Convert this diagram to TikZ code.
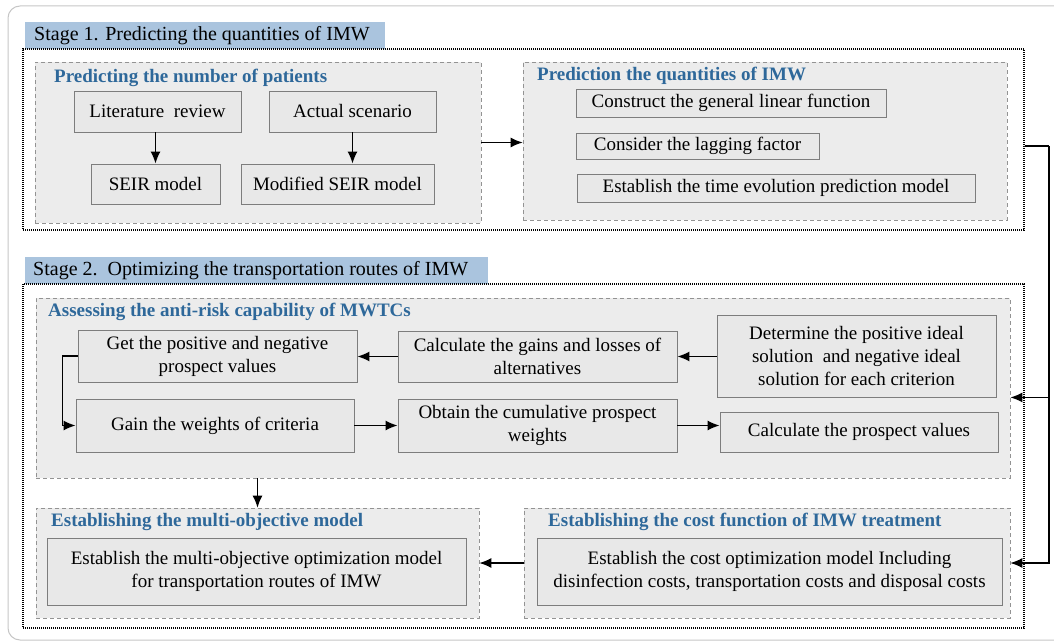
\documentclass[tikz,border=0pt]{standalone}
\usepackage{fontspec}
\setmainfont{Liberation Serif}
\usetikzlibrary{arrows.meta,calc}
\definecolor{hblue}{RGB}{46,104,154}
\definecolor{lblbg}{RGB}{170,196,222}
\definecolor{subfill}{RGB}{236,236,236}
\definecolor{nodefill}{RGB}{232,232,232}
\definecolor{nodeline}{RGB}{125,125,125}
\begin{document}
\begin{tikzpicture}[x=1pt,y=-1pt,
  box/.style={draw=nodeline, fill=nodefill, line width=0.9pt, inner sep=0pt, align=center, font=\fontsize{19}{23}\selectfont},
  subbox/.style={draw=gray!85, fill=subfill, dash pattern=on 4pt off 3pt, line width=0.7pt, inner sep=0pt},
  stagebox/.style={draw=black, dash pattern=on 1pt off 1pt, line width=1.3pt, inner sep=0pt},
  head/.style={anchor=west, text=hblue, font=\fontsize{19}{23}\selectfont\bfseries, inner sep=0pt},
  lbl/.style={fill=lblbg, anchor=north west, inner sep=0pt, minimum height=27pt},
  lbltext/.style={anchor=west, inner sep=0pt, font=\fontsize{20}{24}\selectfont},
  arr/.style={draw=black, line width=1.3pt, -{Latex[length=12pt,width=10pt]}},
  conn/.style={draw=black, line width=1.3pt}]
\useasboundingbox (0,0) rectangle (1054,644);
\clip (0,0) rectangle (1054,644);
% outer frame
\draw[gray!45, line width=1pt, rounded corners=12pt] (8,6) rectangle (1080,640);

% ---------------- Stage 1 ----------------
\node[lbl, minimum width=360pt] (lab1) at (25,22) {};
\node[lbltext] (lab1t) at ([xshift=9pt]lab1.west) {Stage 1. Predicting the quantities of IMW};
\node[stagebox, minimum width=1001pt, minimum height=181pt] (stage1) at (523.5,139.5) {};
\node[subbox, minimum width=446pt, minimum height=161pt] (sub1) at (258,142.5) {};
\node[subbox, minimum width=484pt, minimum height=158pt] (sub2) at (765,141) {};
\node[head] (h1) at (54,78) {Predicting the number of patients};
\node[head] (h2) at (537,76) {Prediction the quantities of IMW};

\node[box, minimum width=167pt, minimum height=41pt] (lit) at (157.5,111.5) {Literature\ \ review};
\node[box, minimum width=167pt, minimum height=41pt] (act) at (352.5,111.5) {Actual scenario};
\node[box, minimum width=129pt, minimum height=40pt] (seir) at (155.5,184) {SEIR model};
\node[box, minimum width=193pt, minimum height=40pt] (mod) at (337.5,184) {Modified SEIR model};

\node[box, minimum width=310pt, minimum height=28pt] (cons) at (731,103) {Construct the general linear function};
\node[box, minimum width=243pt, minimum height=26pt] (lag) at (697.5,146) {Consider the lagging factor};
\node[box, minimum width=398pt, minimum height=28pt] (tim) at (776,188) {Establish the time evolution prediction model};

\draw[arr] (lit.south -| seir.north) -- (seir.north);
\draw[arr] (act.south) -- (act.south |- mod.north);
\draw[arr] (sub1.east) -- (sub2.west |- sub1.east);

% ---------------- Stage 2 ----------------
\node[lbl, minimum width=463pt] (lab2) at (25,257) {};
\node[lbltext] (lab2t) at ([xshift=8pt]lab2.west) {Stage 2.\ \ Optimizing the transportation routes of IMW};
\node[stagebox, minimum width=1001pt, minimum height=344pt] (stage2) at (523.5,456) {};
\node[subbox, minimum width=974pt, minimum height=180pt] (assess) at (523,388) {};
\node[head] (h3) at (48,312) {Assessing the anti-risk capability of MWTCs};

\node[box, minimum width=279pt, minimum height=52pt] (get) at (217.5,356) {Get the positive and negative\\prospect values};
\node[box, minimum width=278pt, minimum height=53pt] (gain) at (215,425.5) {Gain the weights of criteria};
\node[box, minimum width=279pt, minimum height=51pt] (calc) at (537.5,356.5) {Calculate the gains and losses of\\alternatives};
\node[box, minimum width=279pt, minimum height=53pt] (obt) at (537.5,425.5) {Obtain the cumulative prospect\\weights};
\node[box, minimum width=279pt, minimum height=82pt] (det) at (856.5,356) {Determine the positive ideal\\solution\ \ and negative ideal\\solution for each criterion};
\node[box, minimum width=278pt, minimum height=40pt] (pros) at (859,432) {Calculate the prospect values};

\node[subbox, minimum width=443pt, minimum height=110pt] (multi) at (257.5,563) {};
\node[head] (h4) at (51,522) {Establishing the multi-objective model};
\node[box, minimum width=419pt, minimum height=67pt] (multin) at (256.5,571.5) {Establish the multi-objective optimization model\\for transportation routes of IMW};

\node[subbox, minimum width=486pt, minimum height=110pt] (cost) at (767,563) {};
\node[head] (h5) at (548,522) {Establishing the cost function of IMW treatment};
\node[box, minimum width=465pt, minimum height=67pt] (costn) at (769.5,571.5) {Establish the cost optimization model Including\\disinfection costs, transportation costs and disposal costs};

\draw[arr] (det.west |- calc) -- (calc.east);
\draw[arr] (calc.west) -- (get.east |- calc.west);
\draw[arr] (get.west) -- ++(-15,0) |- (gain.west);
\draw[arr] (gain.east) -- (obt.west |- gain.east);
\draw[arr] (obt.east) -- (pros.west |- obt.east);
\draw[arr] (assess.south -| multi.north) -- (multi.north);
\draw[arr] (cost.west) -- (multi.east);

% right-hand bus
\coordinate (bus) at (1049,146);
\draw[conn] (stage1.east |- lag) -- (bus);
\draw[arr] (bus) -- (bus |- cost) -- (cost.east);
\draw[arr] (bus |- det.south) -- (assess.east |- det.south);
\end{tikzpicture}
\end{document}
